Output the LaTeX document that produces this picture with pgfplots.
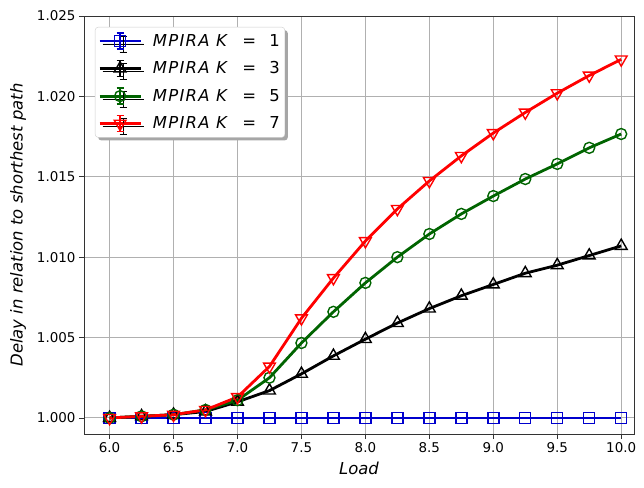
\documentclass[border=0pt]{standalone}
\usepackage{pgfplots}
\pgfplotsset{compat=1.18}
\usepackage{fontspec}
\setmainfont{DejaVu Sans}
\newfontfamily\legfont[LetterSpace=8]{DejaVu Sans}
\usetikzlibrary{shadows}
\definecolor{gridc}{RGB}{176,176,176}
\definecolor{kblue}{RGB}{0,0,205}
\definecolor{kgreen}{RGB}{0,100,0}
\pgfplotstableread{
x k1 k3 k5 k7
6.0  1.0000 1.0000  1.0000  1.0000
6.25 1.0000 1.0001  1.0001  1.0001
6.5  1.0000 1.0002  1.0002  1.0002
6.75 1.0000 1.0004  1.0005  1.0005
7.0  1.0000 1.0010  1.0011  1.0013
7.25 1.0000 1.0017  1.0025  1.0032
7.5  1.0000 1.00274 1.00466 1.0062
7.75 1.0000 1.00386 1.0066  1.0087
8.0  1.0000 1.0049  1.0084  1.0110
8.25 1.0000 1.0059  1.0100  1.0130
8.5  1.0000 1.0068  1.01144 1.01474
8.75 1.0000 1.0076  1.01269 1.0163
9.0  1.0000 1.0083  1.0138  1.01772
9.25 1.0000 1.0090  1.01486 1.0190
9.5  1.0000 1.0095  1.0158  1.0202
9.75 1.0000 1.0101  1.0168  1.0213
10.0 1.0000 1.0107  1.01766 1.0223
}\datatable
\pgfplotsset{
  legimg/.style n args={4}{legend image code/.code={
    \draw[line width=2.8bp, #1] (0bp,0bp) -- (41bp,0bp);
    \draw[line width=1.5bp, #1] (20.5bp,-8bp) -- (20.5bp,8bp)
      (17bp,-8bp) -- (24bp,-8bp) (17bp,8bp) -- (24bp,8bp);
    \draw[line width=1.4bp, #1, fill=none] plot[mark=#2, mark size=#3, mark options={#4}] coordinates {(20.5bp,0bp)};
    \path (51bp,0bp);
  }},
  lineplot/.style={line width=2.8bp, no marks, forget plot},
  markplot/.style={only marks, line width=1.4bp, forget plot, mark options={fill=none, solid}},
}
\begin{document}
\begin{tikzpicture}
\path[use as bounding box] (-84bp,-54bp) rectangle (560bp,434bp);
\begin{axis}[
  at={(0,0)}, anchor=south west,
  scale only axis,
  width=550bp, height=418bp,
  xmin=5.8, xmax=10.1, ymin=0.999, ymax=1.025,
  xtick={6.0,6.5,...,10.0},
  ytick={1.000,1.005,1.010,1.015,1.020,1.025},
  xticklabel style={/pgf/number format/.cd,fixed,fixed zerofill,precision=1},
  yticklabel style={/pgf/number format/.cd,fixed,fixed zerofill,precision=3},
  /pgf/number format/assume math mode=true,
  scaled y ticks=false,
  tick label style={font=\fontsize{13.5}{16}\selectfont},
  label style={font=\fontsize{16.5}{19}\selectfont\itshape},
  ylabel style={yshift=4bp},
  xlabel style={yshift=-2bp},
  xlabel={Load},
  ylabel={Delay in relation to shorthest path},
  grid=major,
  major grid style={gridc, line width=1pt},
  tick align=outside,
  major tick length=5bp,
  tick style={black!80, line width=0.8pt},
  axis line style={black!80, line width=0.8pt},
  xtick pos=bottom, ytick pos=left,
  legend cell align=left,
  legend style={at={(11bp,407bp)}, anchor=north west, draw=black!20, fill=white,
    rounded corners=3pt, font=\fontsize{16.5}{20}\selectfont,
    drop shadow={shadow xshift=3bp, shadow yshift=-3bp, fill=gray!70, opacity=1},
    row sep=10bp, inner xsep=3bp, inner ysep=5bp},
]
\addlegendimage{legimg={kblue}{square}{5.5bp}{}}
\addlegendentry{\legfont\textit{MPIRA K}\ \ =\ \ 1}
\addlegendimage{legimg={black}{triangle}{6.8bp}{}}
\addlegendentry{\legfont\textit{MPIRA K}\ \ =\ \ 3}
\addlegendimage{legimg={kgreen}{o}{5.5bp}{}}
\addlegendentry{\legfont\textit{MPIRA K}\ \ =\ \ 5}
\addlegendimage{legimg={red}{triangle}{6.8bp}{rotate=180}}
\addlegendentry{\legfont\textit{MPIRA K}\ \ =\ \ 7}

\addplot[kblue, lineplot] table[x=x, y=k1] {\datatable};
\addplot[kblue, markplot, mark=square, mark size=5.5bp] table[x=x, y=k1] {\datatable};
\addplot[black, lineplot] table[x=x, y=k3] {\datatable};
\addplot[black, markplot, mark=triangle, mark size=6.8bp] table[x=x, y=k3] {\datatable};
\addplot[kgreen, lineplot] table[x=x, y=k5] {\datatable};
\addplot[kgreen, markplot, mark=o, mark size=5.5bp] table[x=x, y=k5] {\datatable};
\addplot[red, lineplot] table[x=x, y=k7] {\datatable};
\addplot[red, markplot, mark=triangle, mark size=6.8bp, mark options={rotate=180, fill=none, solid}] table[x=x, y=k7] {\datatable};
\end{axis}
\end{tikzpicture}
\end{document}
